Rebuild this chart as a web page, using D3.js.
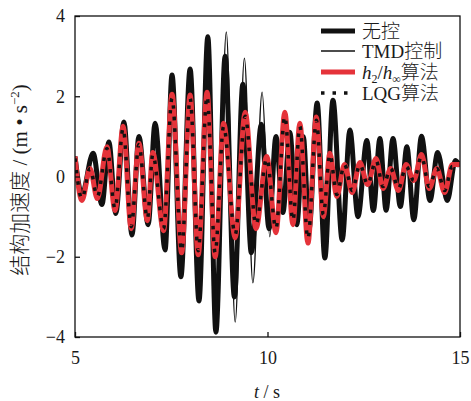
<!DOCTYPE html>
<html>
<head>
<meta charset="utf-8">
<script src="https://cdn.jsdelivr.net/npm/d3@7"></script>
<style>
body { margin: 0; background: #fff; }
text { fill: #1a1a1a; }
</style>
</head>
<body>
<svg id="chart" width="471" height="401"></svg>
<script>
// 无控 (uncontrolled)
var t0 = [5.00,5.18,5.47,5.70,5.88,6.06,6.27,6.48,6.66,6.90,7.08,7.34,7.52,7.75,7.99,8.22,8.45,8.66,8.90,9.14,9.36,9.58,9.84,10.04,10.22,10.40,10.58,10.76,10.93,11.08,11.29,11.49,11.70,11.94,12.14,12.35,12.58,12.75,12.92,13.08,13.26,13.45,13.62,13.80,14.00,14.22,14.42,14.67,14.88,15.00];
var a0 = [0.5,-0.45,0.58,-0.7,0.86,-0.92,1.36,-1.46,1.0,-1.2,1.33,-1.83,2.53,-2.5,2.68,-3.1,3.48,-3.88,3.0,-3.0,2.3,-1.9,1.3,-1.3,1.0,-0.9,1.1,-1.2,1.0,-1.3,1.83,-2.03,1.9,-1.58,1.16,-1.0,0.9,-0.85,0.95,-0.84,0.95,-0.75,0.74,-1.08,1.0,-0.6,0.6,-0.6,0.4,0.25];
// TMD控制
var t1 = [5.00,5.18,5.47,5.70,5.88,6.06,6.27,6.48,6.66,6.90,7.08,7.34,7.52,7.75,7.99,8.22,8.45,8.68,8.93,9.16,9.40,9.62,9.86,10.06,10.22,10.40,10.58,10.76,10.93,11.08,11.29,11.49,11.70,11.94,12.14,12.35,12.58,12.75,12.92,13.08,13.26,13.45,13.62,13.80,14.00,14.22,14.42,14.67,14.88,15.00];
var a1 = [0.5,-0.45,0.55,-0.68,0.84,-0.9,1.3,-1.4,0.95,-1.15,1.3,-1.78,2.45,-2.4,2.6,-3.0,3.4,-3.6,3.6,-3.63,2.95,-2.65,2.1,-1.5,1.0,-0.9,1.05,-1.15,1.0,-1.25,1.8,-2.0,1.85,-1.55,1.1,-1.0,0.85,-0.8,0.9,-0.8,0.9,-0.7,0.7,-1.0,0.95,-0.55,0.55,-0.55,0.38,0.25];
// h2/h∞算法
var t2 = [5.00,5.18,5.39,5.58,5.83,6.04,6.25,6.46,6.66,6.88,7.02,7.30,7.52,7.77,7.99,8.20,8.43,8.64,8.86,9.16,9.42,9.70,9.98,10.22,10.45,10.66,10.84,11.05,11.27,11.45,11.62,11.80,12.00,12.20,12.40,12.60,12.82,13.00,13.20,13.40,13.60,13.80,14.00,14.20,14.40,14.60,14.80,15.00];
var a2 = [0.5,-0.6,0.2,-0.55,0.74,-0.85,1.25,-1.3,0.83,-1.1,0.6,-1.35,2.05,-1.9,2.03,-1.95,2.1,-2.0,1.33,-1.53,1.6,-1.3,0.5,-1.4,1.6,-1.2,1.33,-1.66,1.48,-1.0,0.58,-0.5,0.3,-0.4,0.35,-0.2,0.45,-0.3,0.2,-0.35,0.3,-0.1,0.55,-0.3,0.2,-0.4,0.3,0.3];
// LQG算法
var t3 = [5.00,5.18,5.39,5.58,5.83,6.04,6.25,6.46,6.66,6.88,7.02,7.30,7.52,7.77,7.99,8.20,8.43,8.64,8.86,9.16,9.42,9.70,9.98,10.22,10.45,10.66,10.84,11.05,11.27,11.45,11.62,11.80,12.00,12.20,12.40,12.60,12.82,13.00,13.20,13.40,13.60,13.80,14.00,14.20,14.40,14.60,14.80,15.00];
var a3 = [0.45,-0.55,0.2,-0.5,0.7,-0.8,1.2,-1.25,0.8,-1.05,0.55,-1.3,1.95,-1.85,1.95,-1.85,2.0,-1.9,1.25,-1.45,1.5,-1.2,0.45,-1.3,1.5,-1.1,1.25,-1.55,1.4,-0.95,0.55,-0.45,0.3,-0.35,0.3,-0.2,0.4,-0.25,0.2,-0.3,0.25,-0.1,0.5,-0.25,0.2,-0.35,0.25,0.25];

var xTicks = [5, 10, 15];
var yTicks = [-4, -2, 0, 2, 4];

var svg = d3.select('#chart');
var pL = 75, pR = 460, pT = 16, pB = 337;
var x = d3.scaleLinear().domain([5, 15]).range([pL, pR]);
var y = d3.scaleLinear().domain([-4, 4]).range([pB, pT]);

svg.append('clipPath').attr('id', 'clip')
  .append('rect').attr('x', pL).attr('y', pT)
  .attr('width', pR - pL).attr('height', pB - pT);

var line = d3.line()
  .x(function(d){ return x(d[0]); })
  .y(function(d){ return y(d[1]); })
  .curve(d3.curveMonotoneX);

function pairs(ts, vs) { return ts.map(function(t, i){ return [t, vs[i]]; }); }

var plot = svg.append('g').attr('clip-path', 'url(#clip)');
plot.append('path').attr('d', line(pairs(t0, a0)))
  .attr('fill', 'none').attr('stroke', '#111').attr('stroke-width', 5).attr('stroke-linejoin', 'round');
plot.append('path').attr('d', line(pairs(t1, a1)))
  .attr('fill', 'none').attr('stroke', '#111').attr('stroke-width', 1.4);
plot.append('path').attr('d', line(pairs(t2, a2)))
  .attr('fill', 'none').attr('stroke', '#e5333a').attr('stroke-width', 5).attr('stroke-linejoin', 'round');
plot.append('path').attr('d', line(pairs(t3, a3)))
  .attr('fill', 'none').attr('stroke', '#111').attr('stroke-width', 3.5)
  .attr('stroke-dasharray', '3.5 8');

// axes
var xAxis = d3.axisBottom(x).tickValues(xTicks).tickSize(-5).tickPadding(14);
var yAxis = d3.axisLeft(y).tickValues(yTicks).tickSize(-5).tickPadding(10)
  .tickFormat(function(d){ return d < 0 ? '\u2212' + Math.abs(d) : d; });

var gx = svg.append('g').attr('transform', 'translate(0,' + pB + ')').call(xAxis);
var gy = svg.append('g').attr('transform', 'translate(' + pL + ',0)').call(yAxis);
[gx, gy].forEach(function(g){
  g.select('.domain').remove();
  g.selectAll('line').attr('stroke', '#111').attr('stroke-width', 1.3);
  g.selectAll('text').attr('font-family', '"Liberation Serif", serif').attr('font-size', 18).attr('fill', '#1a1a1a');
});

svg.append('rect').attr('x', pL).attr('y', pT)
  .attr('width', pR - pL).attr('height', pB - pT)
  .attr('fill', 'none').attr('stroke', '#111').attr('stroke-width', 1.3);

// axis titles
var xt = svg.append('text').attr('x', 267).attr('y', 398).attr('text-anchor', 'middle')
  .attr('font-family', '"Liberation Serif", serif').attr('font-size', 18);
xt.append('tspan').attr('font-style', 'italic').text('t');
xt.append('tspan').text(' / s');

var yt = svg.append('text').attr('transform', 'translate(27,180) rotate(-90)')
  .attr('text-anchor', 'middle').attr('font-size', 21).attr('fill', '#2a2a2a');
yt.append('tspan').attr('font-family', '"Noto Sans CJK SC", sans-serif').attr('font-weight', 300).text('结构加速度');
yt.append('tspan').attr('font-family', '"Liberation Serif", serif').text(' / (m \u2022 s');
yt.append('tspan').attr('font-family', '"Liberation Serif", serif').attr('font-size', 13).attr('dy', -8).text('\u22122');
yt.append('tspan').attr('font-family', '"Liberation Serif", serif').attr('dy', 8).text(')');

// legend
var legNames = ['无控', 'TMD控制', 'h2/h∞算法', 'LQG算法'];
var legY = [31, 51, 72, 93];
var lg = svg.append('g');
legNames.forEach(function(name, i){
  var yy = legY[i];
  var l = lg.append('line').attr('x1', 321).attr('x2', 355).attr('y1', yy).attr('y2', yy);
  if (i === 0) l.attr('stroke', '#111').attr('stroke-width', 5);
  if (i === 1) l.attr('stroke', '#111').attr('stroke-width', 1.4);
  if (i === 2) l.attr('stroke', '#e5333a').attr('stroke-width', 5);
  if (i === 3) l.attr('stroke', '#111').attr('stroke-width', 3.5).attr('stroke-dasharray', '3.5 8');
  var tx = lg.append('text').attr('x', 362).attr('y', yy + 7).attr('font-size', 19)
    .attr('font-family', '"Liberation Serif", serif');
  var cjk = '"Noto Sans CJK SC", sans-serif';
  if (i === 0) tx.append('tspan').attr('font-family', cjk).attr('font-weight', 300).text(name);
  if (i === 1) { tx.append('tspan').text('TMD'); tx.append('tspan').attr('font-family', cjk).attr('font-weight', 300).text('控制'); }
  if (i === 2) {
    tx.append('tspan').attr('font-style', 'italic').text('h');
    tx.append('tspan').attr('font-size', 12).attr('dy', 4).text('2');
    tx.append('tspan').attr('dy', -4).text('/');
    tx.append('tspan').attr('font-style', 'italic').text('h');
    tx.append('tspan').attr('font-size', 12).attr('dy', 4).text('\u221e');
    tx.append('tspan').attr('dy', -4).attr('font-family', cjk).attr('font-weight', 300).text('算法');
  }
  if (i === 3) { tx.append('tspan').text('LQG'); tx.append('tspan').attr('font-family', cjk).attr('font-weight', 300).text('算法'); }
});
</script>
</body>
</html>
